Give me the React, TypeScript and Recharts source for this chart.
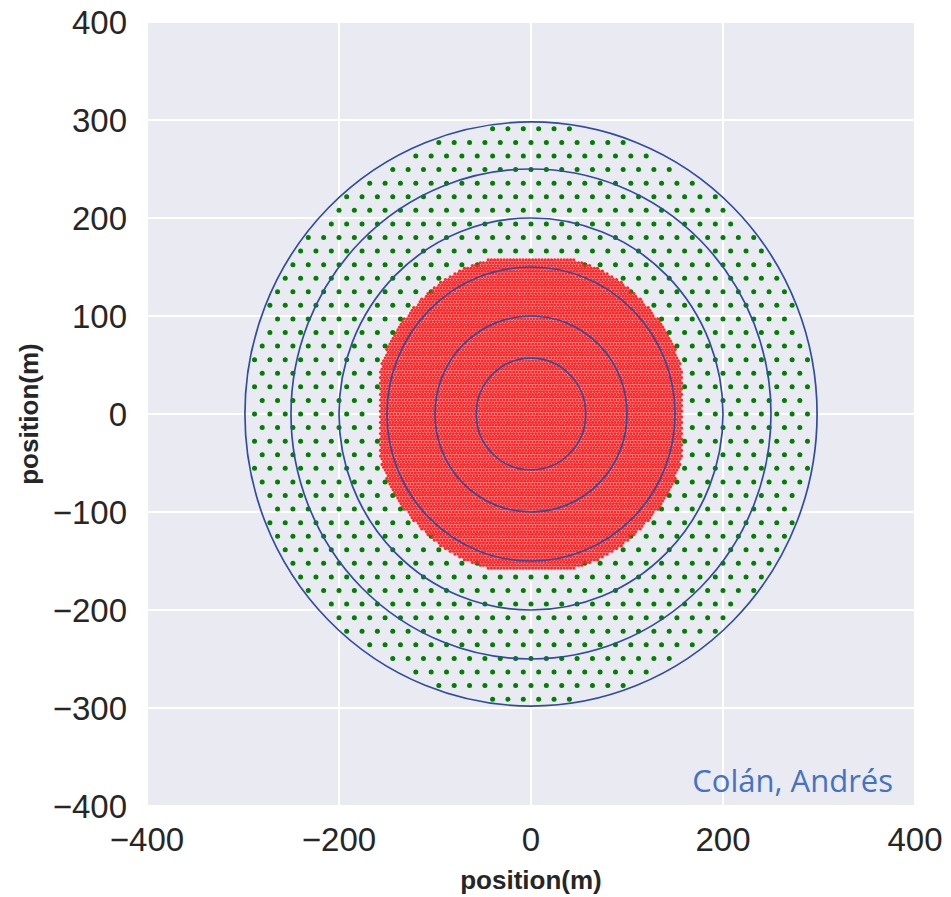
import React from "react";
import {
  CartesianGrid,
  ReferenceArea,
  Scatter,
  ScatterChart,
  XAxis,
  YAxis,
} from "recharts";

const BG = "#EAEAF2";
const RED = "#ff2626";
const GREEN = "#007f00";
const RING = "#2f4d9e";
const TEXT = "#262626";

// axis ticks
const xTicks = [-400, -200, 0, 200, 400];
const yTicks = [-400, -300, -200, -100, 0, 100, 200, 300, 400];

// blue reference circles, radius in metres
const ringRadii = [57, 100, 150, 200, 250, 298];

// green sensor field: hex lattice
const greenPitch = 16; // spacing along a row (m)
const greenInner = 162;
const greenOuter = 296;

// red core: dense hex lattice, a circle with slightly flattened sides
const redPitch = 3.3;
const redRadius = 164;
const redHalfWidth = 158;

type Pt = { x: number; y: number };

function hexLattice(pitch: number, maxR: number, keep: (x: number, y: number) => boolean): Pt[] {
  const rowStep = (pitch * Math.sqrt(3)) / 2;
  const rows = Math.ceil(maxR / rowStep);
  const cols = Math.ceil(maxR / pitch) + 1;
  const out: Pt[] = [];
  for (let j = -rows; j <= rows; j++) {
    const shift = Math.abs(j) % 2 === 1 ? pitch / 2 : 0;
    const y = j * rowStep;
    for (let i = -cols; i <= cols; i++) {
      const x = i * pitch + shift;
      if (keep(x, y)) out.push({ x: +x.toFixed(2), y: +y.toFixed(2) });
    }
  }
  return out;
}

const greenPoints = hexLattice(greenPitch, greenOuter, (x, y) => {
  const r = Math.hypot(x, y);
  return r >= greenInner && r <= greenOuter;
});

const redPoints = hexLattice(redPitch, redRadius, (x, y) =>
  Math.hypot(x, y) <= redRadius && Math.abs(x) <= redHalfWidth && Math.abs(y) <= redHalfWidth
);

const fmt = (v: number) => (v < 0 ? `\u2212${-v}` : `${v}`);

const greenDot = (p: any) => <circle cx={p.cx} cy={p.cy} r={2.5} fill={GREEN} />;
const redDot = (p: any) => <circle cx={p.cx} cy={p.cy} r={1.6} fill={RED} />;

const ringShape = (p: any) => (
  <ellipse
    cx={p.x + p.width / 2}
    cy={p.y + p.height / 2}
    rx={Math.abs(p.width) / 2}
    ry={Math.abs(p.height) / 2}
    fill="none"
    stroke={RING}
    strokeWidth={1.7}
  />
);

const XTitle = ({ viewBox }: any) => (
  <text
    x={viewBox.x + viewBox.width / 2}
    y={viewBox.y + 83}
    textAnchor="middle"
    fontSize={26}
    fontWeight="bold"
    fill={TEXT}
  >
    position(m)
  </text>
);

const YTitle = ({ viewBox }: any) => {
  const x = viewBox.x + 38;
  const y = viewBox.y + viewBox.height / 2;
  return (
    <text
      x={x}
      y={y}
      transform={`rotate(-90 ${x} ${y})`}
      textAnchor="middle"
      fontSize={26}
      fontWeight="bold"
      fill={TEXT}
    >
      position(m)
    </text>
  );
};

export default function App() {
  return (
    <div style={{ position: "absolute", left: 0, top: 0, width: 951, height: 897, background: "#fff" }}>
      <ScatterChart
        width={951}
        height={897}
        margin={{ top: 22, right: 36, left: 0, bottom: 0 }}
        style={{ fontFamily: "'Liberation Sans', Arial, sans-serif" }}
      >
        <CartesianGrid fill={BG} fillOpacity={1} stroke="#ffffff" strokeWidth={2} />
        <XAxis
          type="number"
          dataKey="x"
          domain={[-400, 400]}
          ticks={xTicks}
          tickFormatter={fmt}
          axisLine={false}
          tickLine={false}
          tickSize={0}
          tickMargin={22}
          height={91}
          tick={{ fontSize: 33, fill: TEXT }}
          interval={0}
          allowDataOverflow
          label={{ content: XTitle }}
        />
        <YAxis
          type="number"
          dataKey="y"
          domain={[-400, 400]}
          ticks={yTicks}
          tickFormatter={fmt}
          axisLine={false}
          tickLine={false}
          tickSize={0}
          tickMargin={20}
          width={147}
          tick={{ fontSize: 33, fill: TEXT }}
          interval={0}
          allowDataOverflow
          label={{ content: YTitle }}
        />
        <Scatter data={greenPoints} shape={greenDot} isAnimationActive={false} />
        <Scatter data={redPoints} shape={redDot} isAnimationActive={false} />
        {ringRadii.map((r) => (
          <ReferenceArea
            key={r}
            x1={-r}
            x2={r}
            y1={-r}
            y2={r}
            shape={ringShape}
            ifOverflow="visible"
            zIndex={1000}
          />
        ))}
      </ScatterChart>
      <svg width={951} height={897} style={{ position: "absolute", left: 0, top: 0, pointerEvents: "none" }}>
        <text
          x={893}
          y={792}
          textAnchor="end"
          fontSize={31}
          fill="#4472C4"
          style={{ fontFamily: "'Open Sans', sans-serif" }}
        >
          Colán, Andrés
        </text>
      </svg>
    </div>
  );
}
